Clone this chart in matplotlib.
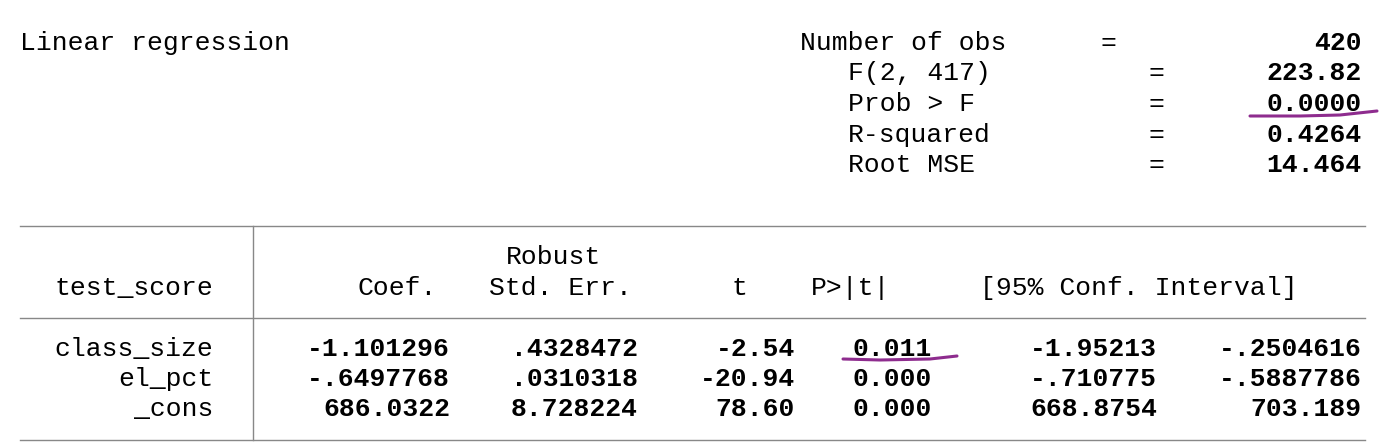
import matplotlib.pyplot as plt

# header stats
stat_labels = ['Number of obs', 'F(2, 417)', 'Prob > F', 'R-squared', 'Root MSE']
stat_values = ['420', '223.82', '0.0000', '0.4264', '14.464']

# coefficient table
col_heads = ['Coef.', 'Std. Err.', 't', 'P>|t|', '[95% Conf. Interval]']
row_names = ['class_size', 'el_pct', '_cons']
coef = ['-1.101296', '-.6497768', '686.0322']
std_err = ['.4328472', '.0310318', '8.728224']
t_vals = ['-2.54', '-20.94', '78.60']
p_vals = ['0.011', '0.000', '0.000']
ci_low = ['-1.95213', '-.710775', '668.8754']
ci_high = ['-.2504616', '-.5887786', '703.189']

FONT = 'Liberation Mono'
FS = 19
PURPLE = '#8e2c8e'

fig = plt.figure(figsize=(14, 4.46), dpi=100)
ax = fig.add_axes([0, 0, 1, 1])
ax.set_xlim(0, 1400)
ax.set_ylim(446, 0)
ax.set_axis_off()

def txt(x, y, s, ha='left', bold=False):
    ax.text(x, y, s, ha=ha, va='center', fontsize=FS, family=FONT,
            fontweight='bold' if bold else 'normal', color='black')

txt(20, 43, 'Linear regression')
stat_y = [43, 73, 104, 135, 165]
for i, (lab, val) in enumerate(zip(stat_labels, stat_values)):
    x0 = 800 if i == 0 else 848
    xe = 1100 if i == 0 else 1148
    txt(x0, stat_y[i], lab)
    txt(xe, stat_y[i], '=')
    txt(1362, stat_y[i], val, ha='right', bold=True)

# table rules
ax.plot([20, 1365], [226, 226], color='#888888', lw=1)
ax.plot([20, 1365], [318, 318], color='#888888', lw=1)
ax.plot([20, 1365], [440, 440], color='#888888', lw=1)
ax.plot([253, 253], [226, 440], color='#888888', lw=1)

txt(601, 257, 'Robust', ha='right')
txt(213, 288, 'test_score', ha='right')
head_x = [437, 632, 747, 890, 1297]
for x, h in zip(head_x, col_heads):
    txt(x, 288, h, ha='right')

row_y = [349, 379, 409]
cols = [(450, coef), (638, std_err), (795, t_vals), (932, p_vals),
        (1157, ci_low), (1362, ci_high)]
for j, name in enumerate(row_names):
    txt(213, row_y[j], name, ha='right')
    for x, vals in cols:
        txt(x, row_y[j], vals[j], ha='right', bold=True)

# hand-drawn underlines
ax.plot([1250, 1300, 1340, 1377], [116, 116, 115, 111], color=PURPLE, lw=2.2,
        solid_capstyle='round')
ax.plot([843, 880, 930, 957], [359, 360, 359, 356], color=PURPLE, lw=2.2,
        solid_capstyle='round')

fig.savefig('out.png', dpi=100, facecolor='white')
